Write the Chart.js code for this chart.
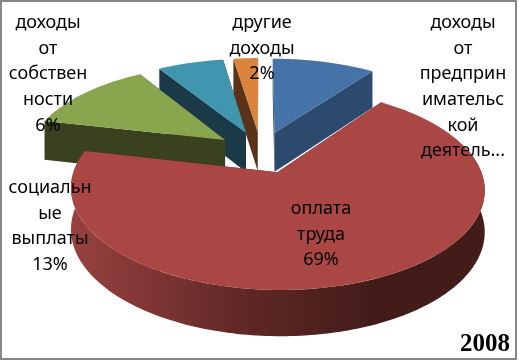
<!DOCTYPE html>
<html>
<head>
<meta charset="utf-8">
<title>2008</title>
<script src="https://cdn.jsdelivr.net/npm/chart.js@4"></script>
<style>
  body { margin: 0; background: #fff; }
</style>
</head>
<body>
<canvas id="myChart" width="519" height="360"></canvas>
<script>
const categories = [
    "доходы от предпринимательской деятельности",
    "оплата труда",
    "социальные выплаты",
    "доходы от собственности",
    "другие доходы"
];
const shares = [10, 68.6, 12.6, 6.4, 2.4];
const chartYear = "2008";

// line breaks of the data labels, same order as categories
const labelLines = [
    ["доходы", "от", "предприн", "имательс", "кой", "деятель..."],
    ["оплата", "труда", "69%"],
    ["социальн", "ые", "выплаты", "13%"],
    ["доходы", "от", "собствен", "ности", "6%"],
    ["другие", "доходы", "2%"]
];

const topColors = ["#4572A7", "#AA4643", "#89A54E", "#3F96AE", "#DB843D"];
const sideColors = ["#2C4A6E", "#5a2523", "#3A411F", "#1A3A47", "#5A3318"];

// label centres: x, y of first line
const labelPos = [[463, 23], [321, 209], [50, 188], [48, 23], [262, 23]];
const lineHeight = 25.6;

// the flat pie is tilted with a small perspective, numbers fitted by eye
const view = { cx: 261, cy: 152, sx: 197, sy: 91.5, k: 0.16, depthA: 14, depthB: 26 };

function project(u, v) {
    const w = 1 - view.k * v;
    return { x: view.cx + view.sx * u / w, y: view.cy + view.sy * v / w, w: w };
}

function depthAt(p) {
    return view.depthA + view.depthB / p.w;
}

// turn an arc element of the pie into unit plane points
function slicePoints(arc, from, to) {
    const r = arc.outerRadius;
    const mid = (arc.startAngle + arc.endAngle) / 2;
    const e = arc.options.offset / r;
    const ox = Math.cos(mid) * e;
    const oy = Math.sin(mid) * e;
    const pts = [];
    const steps = Math.max(2, Math.ceil((to - from) / 0.02));
    for (let i = 0; i <= steps; i++) {
        const a = from + (to - from) * i / steps;
        pts.push(project(ox + Math.cos(a), oy + Math.sin(a)));
    }
    return { tip: project(ox, oy), pts: pts };
}

function fillPoly(ctx, pts, color) {
    ctx.beginPath();
    pts.forEach((p, i) => {
        if (i === 0) ctx.moveTo(p.x, p.y);
        else ctx.lineTo(p.x, p.y);
    });
    ctx.closePath();
    ctx.fillStyle = color;
    ctx.fill();
}

function lower(p) {
    return { x: p.x, y: p.y + depthAt(p), w: p.w };
}

function drawSlice(ctx, arc, i) {
    const shape = slicePoints(arc, arc.startAngle, arc.endAngle);
    const first = shape.pts[0];
    const last = shape.pts[shape.pts.length - 1];

    // cut faces
    fillPoly(ctx, [shape.tip, first, lower(first), lower(shape.tip)], sideColors[i]);
    fillPoly(ctx, [shape.tip, last, lower(last), lower(shape.tip)], sideColors[i]);

    // outer wall, only the part turned to the viewer
    const from = Math.max(arc.startAngle, -0.25);
    const to = Math.min(arc.endAngle, Math.PI + 0.25);
    if (to > from) {
        const wall = slicePoints(arc, from, to).pts;
        let wallFill = sideColors[i];
        if (i === 1) {
            const grad = ctx.createLinearGradient(72, 0, 370, 0);
            grad.addColorStop(0, "#974140");
            grad.addColorStop(0.6, "#5e2725");
            grad.addColorStop(1, "#431c1a");
            wallFill = grad;
        }
        fillPoly(ctx, wall.concat(wall.slice().reverse().map(lower)), wallFill);
    }

    // top
    fillPoly(ctx, [shape.tip].concat(shape.pts), topColors[i]);
}

const pie3d = {
    id: "pie3d",
    beforeDatasetDraw(chart, args) {
        const arcs = args.meta.data;
        // far slices first, the big one in front
        [4, 3, 2, 0, 1].forEach(i => drawSlice(chart.ctx, arcs[i], i));
        return false;
    },
    afterDraw(chart) {
        const ctx = chart.ctx;
        ctx.save();
        ctx.fillStyle = "#000";
        ctx.textAlign = "center";
        ctx.textBaseline = "middle";
        ctx.font = "18px 'Noto Sans'";
        labelLines.forEach((lines, i) => {
            lines.forEach((line, j) => {
                ctx.fillText(line, labelPos[i][0], labelPos[i][1] + j * lineHeight);
            });
        });
        ctx.textAlign = "right";
        ctx.textBaseline = "alphabetic";
        ctx.font = "bold 25px 'Liberation Serif'";
        ctx.fillText(chartYear, 510, 351);
        ctx.strokeStyle = "#868686";
        ctx.lineWidth = 2;
        ctx.strokeRect(1, 1, 515, 358);
        ctx.restore();
    }
};

const myChart = document.getElementById("myChart");

let pieChart = new Chart(myChart, {
    type: "pie",
    data: {
        labels: categories,
        datasets: [{
            data: shares,
            backgroundColor: topColors,
            borderWidth: 0,
            offset: 37
        }]
    },
    options: {
        responsive: false,
        animation: false,
        plugins: {
            legend: { display: false },
            tooltip: { enabled: false }
        }
    },
    plugins: [pie3d]
});
</script>
</body>
</html>
